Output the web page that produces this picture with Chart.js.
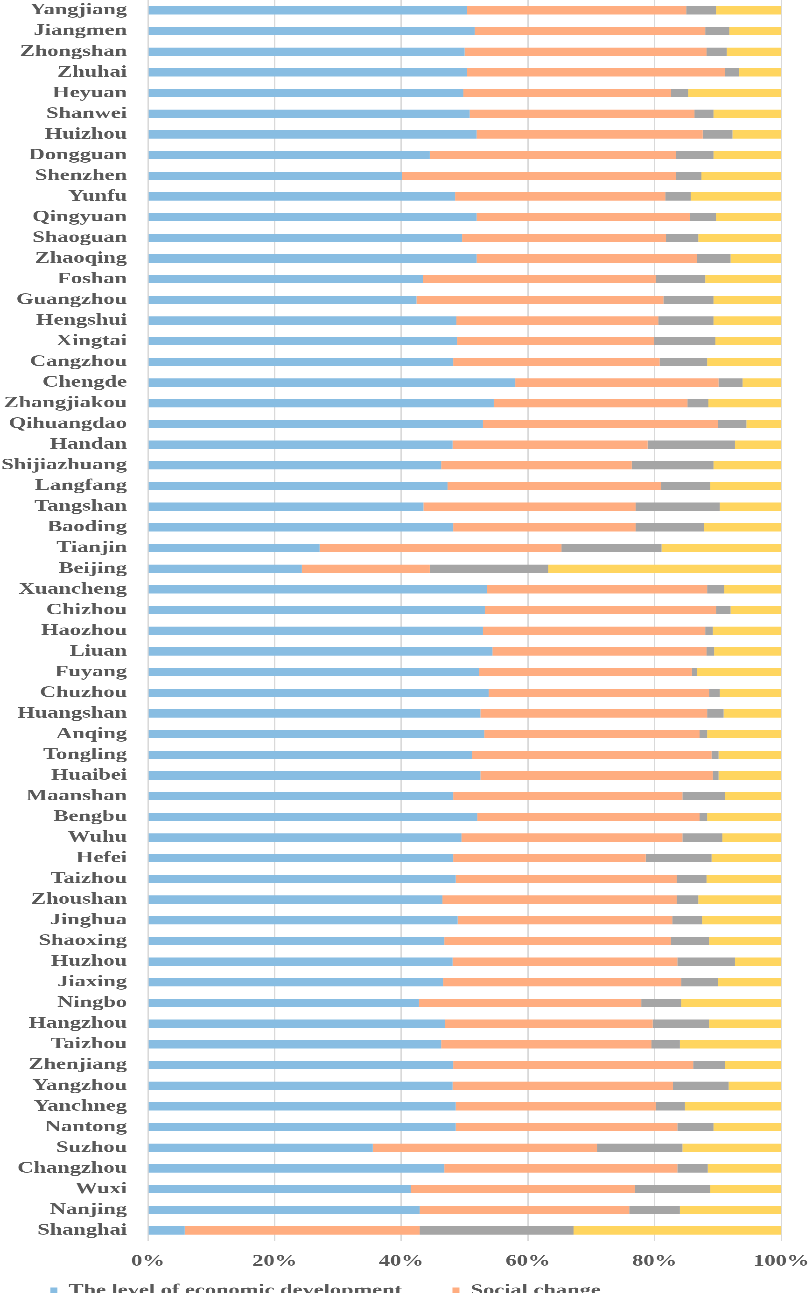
<!DOCTYPE html>
<html>
<head>
<meta charset="utf-8">
<script src="https://cdn.jsdelivr.net/npm/chart.js@4"></script>
<style>
html,body{margin:0;padding:0;background:#fff;overflow:hidden;}
#wrap{width:809px;height:1293px;overflow:hidden;position:relative;background:#fff;}
#c{position:absolute;left:0;top:0;transform:scaleX(1.4);transform-origin:0 0;}
</style>
</head>
<body>
<div id="wrap"><canvas id="c" width="578" height="1371"></canvas></div>
<script>
const categories = ["Yangjiang","Jiangmen","Zhongshan","Zhuhai","Heyuan","Shanwei","Huizhou","Dongguan","Shenzhen","Yunfu",
"Qingyuan","Shaoguan","Zhaoqing","Foshan","Guangzhou","Hengshui","Xingtai","Cangzhou","Chengde","Zhangjiakou",
"Qihuangdao","Handan","Shijiazhuang","Langfang","Tangshan","Baoding","Tianjin","Beijing","Xuancheng","Chizhou",
"Haozhou","Liuan","Fuyang","Chuzhou","Huangshan","Anqing","Tongling","Huaibei","Maanshan","Bengbu",
"Wuhu","Hefei","Taizhou","Zhoushan","Jinghua","Shaoxing","Huzhou","Jiaxing","Ningbo","Hangzhou",
"Taizhou","Zhenjiang","Yangzhou","Yanchneg","Nantong","Suzhou","Changzhou","Wuxi","Nanjing","Shanghai"];

const economic = [50.4,51.6,50.0,50.4,49.8,50.8,51.9,44.5,40.1,48.5,
51.9,49.6,51.9,43.4,42.4,48.7,48.8,48.2,58.0,54.6,
52.9,48.1,46.3,47.3,43.5,48.2,27.1,24.3,53.5,53.2,
52.9,54.4,52.3,53.8,52.5,53.1,51.2,52.5,48.2,52.0,
49.5,48.2,48.6,46.5,48.9,46.8,48.1,46.6,42.8,46.9,
46.3,48.2,48.1,48.6,48.6,35.5,46.8,41.5,42.9,5.8];

const social = [34.6,36.4,38.2,40.7,32.8,35.5,35.7,38.9,43.3,33.2,
33.7,32.2,34.8,36.8,39.0,31.9,31.1,32.6,32.1,30.6,
37.1,30.8,30.1,33.7,33.5,28.8,38.2,20.2,34.8,36.5,
35.1,33.8,33.6,34.8,35.8,34.0,37.8,36.7,36.2,35.1,
34.9,30.4,34.9,37.0,33.9,35.8,35.5,37.6,35.1,32.8,
33.2,37.9,34.8,31.6,35.0,35.4,36.8,35.4,33.1,37.1];

const thirdSeries = [4.7,3.8,3.2,2.2,2.7,3.0,4.7,5.9,4.0,4.0,
4.1,5.1,5.3,7.8,7.9,8.7,9.7,7.5,3.8,3.3,
4.5,13.8,12.9,7.8,13.3,10.8,15.8,18.7,2.7,2.3,
1.2,1.2,0.8,1.7,2.6,1.2,1.1,0.9,6.7,1.2,
6.3,10.4,4.7,3.4,4.7,6.0,9.1,5.8,6.3,8.9,
4.5,5.0,8.8,4.6,5.7,13.5,4.8,11.9,8.0,24.3];

const fourthSeries = [10.3,8.2,8.6,6.7,14.7,10.7,7.7,10.7,12.6,14.3,
10.3,13.1,8.0,12.0,10.7,10.7,10.4,11.7,6.1,11.5,
5.5,7.3,10.7,11.2,9.7,12.2,18.9,36.8,9.0,8.0,
10.8,10.6,13.3,9.7,9.1,11.7,9.9,9.9,8.9,11.7,
9.3,11.0,11.8,13.1,12.5,11.4,7.3,10.0,15.8,11.4,
16.0,8.9,8.3,15.2,10.7,15.6,11.6,11.2,16.0,32.8];

const seriesNames = ["The level of economic development","Social change","Environmental condition","Policy and institution"];
const xTicks = [0,20,40,60,80,100];

const font = {family:"'Liberation Serif','Times New Roman',serif", weight:'bold', size:16};
const textColor = '#595959';

const legendShift = {
  id:'legendShift',
  afterLayout(chart){
    const l = chart.legend;
    if(l){
      const dy = (1291 - 44) - l.top;
      l.top += dy; l.bottom += dy;
    }
  }
};

new Chart(document.getElementById('c'), {
  type:'bar',
  data:{
    labels:categories,
    datasets:[
      {label:seriesNames[0], data:economic, backgroundColor:'#88BDE2'},
      {label:seriesNames[1], data:social, backgroundColor:'#FFAD80'},
      {label:seriesNames[2], data:thirdSeries, backgroundColor:'#A5A5A5'},
      {label:seriesNames[3], data:fourthSeries, backgroundColor:'#FFD55F'}
    ]
  },
  options:{
    indexAxis:'y',
    responsive:false,
    animation:false,
    devicePixelRatio:3,
    layout:{padding:0},
    datasets:{bar:{barPercentage:0.5, categoryPercentage:0.8, borderWidth:0}},
    scales:{
      x:{
        stacked:true, min:0, max:100,
        afterBuildTicks(scale){ scale.ticks = xTicks.map(v=>({value:v})); },
        afterFit(scale){ scale.height = 30.2; scale.paddingRight = 20; scale.paddingLeft = 0; },
        ticks:{callback:v=>v+'%', font:font, color:textColor, padding:11, maxRotation:0},
        grid:{color:'#D9D9D9', lineWidth:1, drawTicks:false},
        border:{display:false}
      },
      y:{
        stacked:true,
        afterFit(scale){ scale.width = 105.7; scale.paddingTop = 0; scale.paddingBottom = 0; },
        ticks:{font:font, color:textColor, padding:15, autoSkip:false},
        grid:{display:false, drawTicks:false},
        border:{display:false}
      }
    },
    plugins:{
      legend:{
        display:true, position:'bottom', align:'start', maxHeight:100,
        labels:{font:font, color:textColor, boxWidth:5, boxHeight:7, padding:36}
      },
      tooltip:{enabled:false}
    }
  },
  plugins:[legendShift]
});
</script>
</body>
</html>
